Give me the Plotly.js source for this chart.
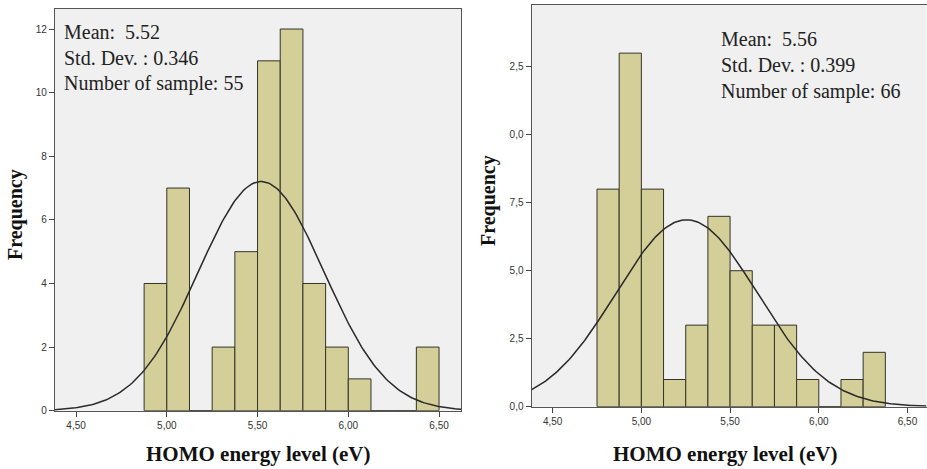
<!DOCTYPE html>
<html><head><meta charset="utf-8">
<script src="https://cdn.plot.ly/plotly-3.0.1.min.js"></script>
<style>html,body{margin:0;padding:0;background:#fff}#c{width:927px;height:469px}</style>
</head><body><div id="c"></div>
<script>
// Left histogram (bin width 0.125)
const leftBinStart = [4.875, 5.0, 5.125, 5.25, 5.375, 5.5, 5.625, 5.75, 5.875, 6.0, 6.125, 6.25, 6.375];
const leftCounts   = [4, 7, 0, 2, 5, 11, 12, 4, 2, 1, 0, 0, 2];
const leftFit = {mean: 5.52, sd: 0.346, n: 50};
const leftStats = ["Mean:  5.52", "Std. Dev. : 0.346", "Number of sample: 55"];

// Right histogram
const rightBinStart = [4.75, 4.875, 5.0, 5.125, 5.25, 5.375, 5.5, 5.625, 5.75, 5.875, 6.0, 6.125, 6.25];
const rightCounts   = [8, 13, 8, 1, 3, 7, 5, 3, 3, 1, 0, 1, 2];
const rightFit = {mean: 5.255, sd: 0.399, n: 55};
const rightStats = ["Mean:  5.56", "Std. Dev. : 0.399", "Number of sample: 66"];

const binWidth = 0.125;
const xTickVals = [4.5, 5.0, 5.5, 6.0, 6.5];
const xTickText = ["4,50", "5,00", "5,50", "6,00", "6,50"];
const leftYTickVals = [0, 2, 4, 6, 8, 10, 12];
const leftYTickText = ["0", "2", "4", "6", "8", "10", "12"];
const rightYTickVals = [0, 2.5, 5, 7.5, 10, 12.5];
const rightYTickText = ["0,0", "2,5", "5,0", "7,5", "0,0", "2,5"];

const W = 927, H = 469;
const px = v => v / W, py = v => 1 - v / H;

const leftXRange = [4.384, 6.621];
const rightXRange = [4.382, 6.607];

function normalCurve(fit, range) {
  const xs = [], ys = [];
  const steps = 200;
  for (let i = 0; i <= steps; i++) {
    const x = range[0] + (range[1] - range[0]) * i / steps;
    const z = (x - fit.mean) / fit.sd;
    xs.push(x);
    ys.push(fit.n * binWidth / (fit.sd * Math.sqrt(2 * Math.PI)) * Math.exp(-0.5 * z * z));
  }
  return {xs, ys};
}
const centers = a => a.map(s => s + binWidth / 2);

const barStyle = {color: '#d4cf98', line: {color: '#333328', width: 1}};
const lc = normalCurve(leftFit, leftXRange);
const rc = normalCurve(rightFit, rightXRange);

const data = [
  {type: 'bar', x: centers(leftBinStart), y: leftCounts, width: binWidth, marker: barStyle, xaxis: 'x', yaxis: 'y', hoverinfo: 'x+y'},
  {type: 'scatter', mode: 'lines', x: lc.xs, y: lc.ys, line: {color: '#2a2a2a', width: 1.5}, xaxis: 'x', yaxis: 'y'},
  {type: 'bar', x: centers(rightBinStart), y: rightCounts, width: binWidth, marker: barStyle, xaxis: 'x2', yaxis: 'y2', hoverinfo: 'x+y'},
  {type: 'scatter', mode: 'lines', x: rc.xs, y: rc.ys, line: {color: '#2a2a2a', width: 1.5}, xaxis: 'x2', yaxis: 'y2'}
];

const tickFont = {family: 'Liberation Sans, Arial, sans-serif', size: 10, color: '#333'};
const axBase = {showgrid: false, zeroline: false, showline: true, mirror: true, linecolor: '#555', linewidth: 1.2,
  ticks: 'outside', ticklen: 5, tickcolor: '#444', tickfont: tickFont, fixedrange: true};

const serif = 'Liberation Serif, Times New Roman, serif';
const ann = [];
function statLines(lines, x, ys) {
  lines.forEach((t, i) => ann.push({xref: 'paper', yref: 'paper', x: px(x), y: py(ys[i]), xanchor: 'left', yanchor: 'middle',
    text: t, showarrow: false, font: {family: serif, size: 20, color: '#222'}}));
}
statLines(leftStats, 62, [32, 58, 83]);
statLines(rightStats, 719, [39, 65, 91]);
ann.push({xref: 'paper', yref: 'paper', x: px(258), y: py(454), text: '<b>HOMO energy level (eV)</b>', showarrow: false,
  font: {family: serif, size: 21, color: '#111'}, xanchor: 'center', yanchor: 'middle'});
ann.push({xref: 'paper', yref: 'paper', x: px(725), y: py(454), text: '<b>HOMO energy level (eV)</b>', showarrow: false,
  font: {family: serif, size: 21, color: '#111'}, xanchor: 'center', yanchor: 'middle'});
ann.push({xref: 'paper', yref: 'paper', x: px(15), y: py(215), text: '<b>Frequency</b>', textangle: -90, showarrow: false,
  font: {family: serif, size: 20, color: '#111'}, xanchor: 'center', yanchor: 'middle'});
ann.push({xref: 'paper', yref: 'paper', x: px(488), y: py(201), text: '<b>Frequency</b>', textangle: -90, showarrow: false,
  font: {family: serif, size: 20, color: '#111'}, xanchor: 'center', yanchor: 'middle'});

const layout = {
  width: W, height: H, margin: {l: 0, r: 0, t: 0, b: 0},
  paper_bgcolor: '#fff', plot_bgcolor: '#f0f0f0', showlegend: false, bargap: 0,
  xaxis: Object.assign({}, axBase, {domain: [px(55), px(461)], range: leftXRange, tickvals: xTickVals, ticktext: xTickText, anchor: 'y'}),
  yaxis: Object.assign({}, axBase, {domain: [py(410.7), py(9)], range: [0, 12.63], tickvals: leftYTickVals, ticktext: leftYTickText, anchor: 'x'}),
  xaxis2: Object.assign({}, axBase, {domain: [px(531.7), px(926.5)], range: rightXRange, tickvals: xTickVals, ticktext: xTickText, anchor: 'y2'}),
  yaxis2: Object.assign({}, axBase, {domain: [py(406.7), py(5)], range: [0, 14.77], tickvals: rightYTickVals, ticktext: rightYTickText, anchor: 'x2'}),
  annotations: ann
};
Plotly.newPlot('c', data, layout, {displayModeBar: false, staticPlot: true});
</script></body></html>
